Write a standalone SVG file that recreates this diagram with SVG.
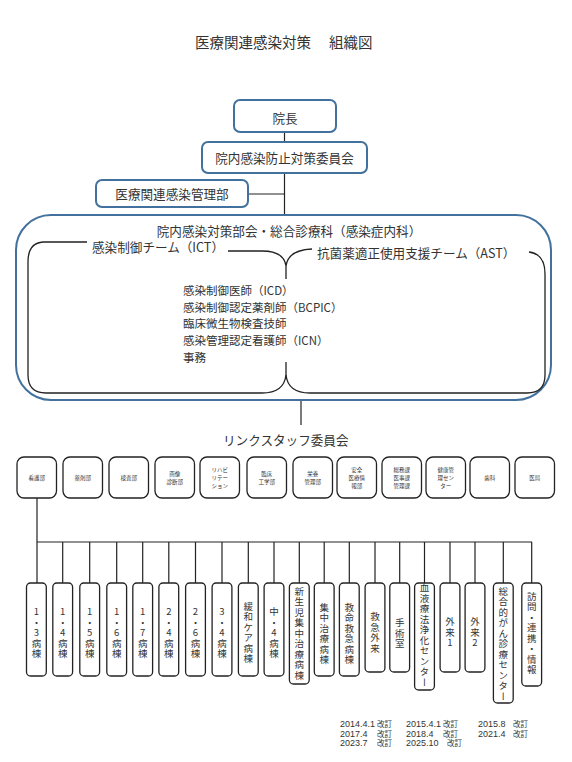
<svg xmlns="http://www.w3.org/2000/svg" width="572" height="762" viewBox="0 0 572 762">
<style>
text{font-family:"Noto Sans CJK JP","Liberation Sans",sans-serif;fill:#333}
.t{font-size:14.5px}
.m{font-size:12.6px}
.s{font-size:11.5px}
.bb{fill:#fff;stroke:#41719C;stroke-width:2}
.dep{fill:#fff;stroke:#222;stroke-width:1.3}
.dt{font-size:5.5px;text-anchor:middle}
.ward{fill:#fff;stroke:#222;stroke-width:1.3}
.wt{font-size:9.5px;text-anchor:middle;writing-mode:vertical-rl;text-orientation:upright;letter-spacing:1px}
.ln{stroke:#222;stroke-width:1.2;fill:none}
.br{stroke:#222;stroke-width:1.3;fill:none}
.ft{font-size:9px;font-family:"Liberation Sans","Noto Sans CJK JP",sans-serif}
.kt{font-size:7.6px;font-family:"Noto Sans CJK JP",sans-serif}
</style>
<rect width="572" height="762" fill="#fff"/>
<text class="t" x="195" y="48">医療関連感染対策<tspan x="329">組織図</tspan></text>

<g id="connectors">
<line class="ln" x1="284.5" y1="132" x2="284.5" y2="142"/>
<line class="ln" x1="284.5" y1="173" x2="284.5" y2="215"/>
<line class="ln" x1="248" y1="194" x2="284.5" y2="194"/>
<line class="ln" x1="301" y1="400" x2="301" y2="425"/>
<line class="ln" x1="37" y1="498" x2="37" y2="583"/>
<line class="ln" x1="37" y1="542" x2="532" y2="542"/>
<path class="ln" d="M62.7 542V583M89.7 542V583M116.7 542V583M142.7 542V583M168.8 542V583M195.5 542V583M222 542V583M248.3 542V583M274 542V583M299.3 542V583M324.2 542V583M349.3 542V583M375 542V583M399.7 542V583M424.5 542V583M450 542V583M475 542V583M503.3 542V583M531.7 542V583"/>
</g>

<g id="n-incho">
<rect class="bb" x="234" y="100" width="102" height="32" rx="6"/>
<text class="m" x="285" y="122.5" text-anchor="middle">院長</text>
</g>
<g id="n-iinkai">
<rect class="bb" x="202" y="142" width="165" height="31" rx="6"/>
<text class="m" x="284.5" y="162.5" text-anchor="middle">院内感染防止対策委員会</text>
</g>
<g id="n-kanribu">
<rect class="bb" x="96" y="180" width="152" height="27" rx="6"/>
<text class="m" x="172" y="198.5" text-anchor="middle">医療関連感染管理部</text>
</g>

<g id="n-bukai">
<rect class="bb" x="16" y="215" width="535" height="185" rx="35"/>
<text class="m" x="289" y="235.5" text-anchor="middle">院内感染対策部会・総合診療科（感染症内科）</text>
<path class="br" d="M87 242 L43 242 Q28 243 28 262 L28 375 Q28 393 46 393 L262 393 Q284 393 286 375 L286 362"/>
<path class="br" d="M228 251 L262 251 Q284 251 286 266 L286 279 M286 266 Q288 250 312 249"/>
<path class="br" d="M286 375 Q288 393 310 393 L527 393 Q545 393 545 375 L545 274 Q545 254 529 252"/>
<text class="m" x="92" y="251.5">感染制御チーム（ICT）</text>
<text class="m" x="317" y="257.5">抗菌薬適正使用支援チーム（AST）</text>
<text class="s" x="183" y="295">感染制御医師（ICD）</text>
<text class="s" x="183" y="311.7">感染制御認定薬剤師（BCPIC）</text>
<text class="s" x="183" y="328.4">臨床微生物検査技師</text>
<text class="s" x="183" y="345.1">感染管理認定看護師（ICN）</text>
<text class="s" x="183" y="361.8">事務</text>
</g>

<g id="n-link">
<text class="m" x="223" y="445">リンクスタッフ委員会</text>
</g>

<g id="d1"><rect class="dep" x="17" y="457" width="39.5" height="41" rx="7"/><text class="dt" x="36.8" y="479.5">看護部</text></g>
<g id="d2"><rect class="dep" x="63" y="457" width="39.5" height="41" rx="7"/><text class="dt" x="82.8" y="479.5">薬剤部</text></g>
<g id="d3"><rect class="dep" x="109" y="457" width="39.5" height="41" rx="7"/><text class="dt" x="128.8" y="479.5">検査部</text></g>
<g id="d4"><rect class="dep" x="155" y="457" width="39.5" height="41" rx="7"/><text class="dt" x="174.8" y="475.5">画像<tspan x="174.8" y="483.5">診断部</tspan></text></g>
<g id="d5"><rect class="dep" x="200" y="457" width="39.5" height="41" rx="7"/><text class="dt" x="219.8" y="471.5">リハビ<tspan x="219.8" y="479.5">リテー</tspan><tspan x="219.8" y="487.5">ション</tspan></text></g>
<g id="d6"><rect class="dep" x="247" y="457" width="39.5" height="41" rx="7"/><text class="dt" x="266.8" y="475.5">臨床<tspan x="266.8" y="483.5">工学部</tspan></text></g>
<g id="d7"><rect class="dep" x="293" y="457" width="39.5" height="41" rx="7"/><text class="dt" x="312.8" y="475.5">栄養<tspan x="312.8" y="483.5">管理部</tspan></text></g>
<g id="d8"><rect class="dep" x="337" y="457" width="39.5" height="41" rx="7"/><text class="dt" x="356.8" y="471.5">安全<tspan x="356.8" y="479.5">医療情</tspan><tspan x="356.8" y="487.5">報部</tspan></text></g>
<g id="d9"><rect class="dep" x="382" y="457" width="39.5" height="41" rx="7"/><text class="dt" x="401.8" y="471.5">総務課<tspan x="401.8" y="479.5">医事課</tspan><tspan x="401.8" y="487.5">管理課</tspan></text></g>
<g id="d10"><rect class="dep" x="426" y="457" width="39.5" height="41" rx="7"/><text class="dt" x="445.8" y="471.5">健康管<tspan x="445.8" y="479.5">理セン</tspan><tspan x="445.8" y="487.5">ター</tspan></text></g>
<g id="d11"><rect class="dep" x="470" y="457" width="39.5" height="41" rx="7"/><text class="dt" x="489.8" y="479.5">歯科</text></g>
<g id="d12"><rect class="dep" x="515" y="457" width="39.5" height="41" rx="7"/><text class="dt" x="534.8" y="479.5">医局</text></g>

<g id="w1"><rect class="ward" x="26.5" y="583" width="19.8" height="93" rx="4"/><text class="wt" x="36.4" y="633">1・3病棟</text></g>
<g id="w2"><rect class="ward" x="52.8" y="583" width="19.8" height="93" rx="4"/><text class="wt" x="62.7" y="633">1・4病棟</text></g>
<g id="w3"><rect class="ward" x="79.8" y="583" width="19.8" height="93" rx="4"/><text class="wt" x="89.7" y="633">1・5病棟</text></g>
<g id="w4"><rect class="ward" x="106.8" y="583" width="19.8" height="93" rx="4"/><text class="wt" x="116.7" y="633">1・6病棟</text></g>
<g id="w5"><rect class="ward" x="132.8" y="583" width="19.8" height="93" rx="4"/><text class="wt" x="142.7" y="633">1・7病棟</text></g>
<g id="w6"><rect class="ward" x="158.9" y="583" width="19.8" height="93" rx="4"/><text class="wt" x="168.8" y="633">2・4病棟</text></g>
<g id="w7"><rect class="ward" x="185.6" y="583" width="19.8" height="93" rx="4"/><text class="wt" x="195.5" y="633">2・6病棟</text></g>
<g id="w8"><rect class="ward" x="212.1" y="583" width="19.8" height="93" rx="4"/><text class="wt" x="222" y="633">3・4病棟</text></g>
<g id="w9"><rect class="ward" x="238.4" y="583" width="19.8" height="93" rx="4"/><text class="wt" x="248.3" y="633">緩和ケア病棟</text></g>
<g id="w10"><rect class="ward" x="264.1" y="583" width="19.8" height="93" rx="4"/><text class="wt" x="274" y="633">中・4病棟</text></g>
<g id="w11"><rect class="ward" x="289.4" y="583" width="19.8" height="101" rx="4"/><text class="wt" x="299.3" y="633.5">新生児集中治療病棟</text></g>
<g id="w12"><rect class="ward" x="314.3" y="583" width="19.8" height="93" rx="4"/><text class="wt" x="324.2" y="634">集中治療病棟</text></g>
<g id="w13"><rect class="ward" x="339.4" y="583" width="19.8" height="93" rx="4"/><text class="wt" x="349.3" y="634">救命救急病棟</text></g>
<g id="w14"><rect class="ward" x="365.1" y="583" width="19.8" height="89" rx="4"/><text class="wt" x="375" y="633">救急外来</text></g>
<g id="w15"><rect class="ward" x="389.8" y="583" width="19.8" height="89" rx="4"/><text class="wt" x="399.7" y="633.5">手術室</text></g>
<g id="w16"><rect class="ward" x="414.6" y="583" width="19.8" height="107" rx="4"/><text class="wt" x="424.5" y="635.5">血液療法浄化センター</text></g>
<g id="w17"><rect class="ward" x="440.1" y="583" width="19.8" height="89" rx="4"/><text class="wt" x="450" y="632.5">外来1</text></g>
<g id="w18"><rect class="ward" x="465.1" y="583" width="19.8" height="89" rx="4"/><text class="wt" x="475" y="632.5">外来2</text></g>
<g id="w19"><rect class="ward" x="493.4" y="583" width="19.8" height="120" rx="4"/><text class="wt" x="503.3" y="644">総合的がん診療センター</text></g>
<g id="w20"><rect class="ward" x="521.8" y="583" width="19.8" height="103" rx="4"/><text class="wt" x="531.7" y="633.5">訪問・連携・情報</text></g>

<g id="footer">
<text class="ft" x="340" y="727">2014.4.1<tspan class="kt" x="377">改訂</tspan></text>
<text class="ft" x="340" y="736.5">2017.4<tspan class="kt" x="377">改訂</tspan></text>
<text class="ft" x="340" y="746">2023.7<tspan class="kt" x="377">改訂</tspan></text>
<text class="ft" x="406" y="727">2015.4.1<tspan class="kt" x="443">改訂</tspan></text>
<text class="ft" x="406" y="736.5">2018.4<tspan class="kt" x="443">改訂</tspan></text>
<text class="ft" x="406" y="746">2025.10<tspan class="kt" x="447">改訂</tspan></text>
<text class="ft" x="478" y="727">2015.8<tspan class="kt" x="513">改訂</tspan></text>
<text class="ft" x="478" y="736.5">2021.4<tspan class="kt" x="513">改訂</tspan></text>
</g>
</svg>
